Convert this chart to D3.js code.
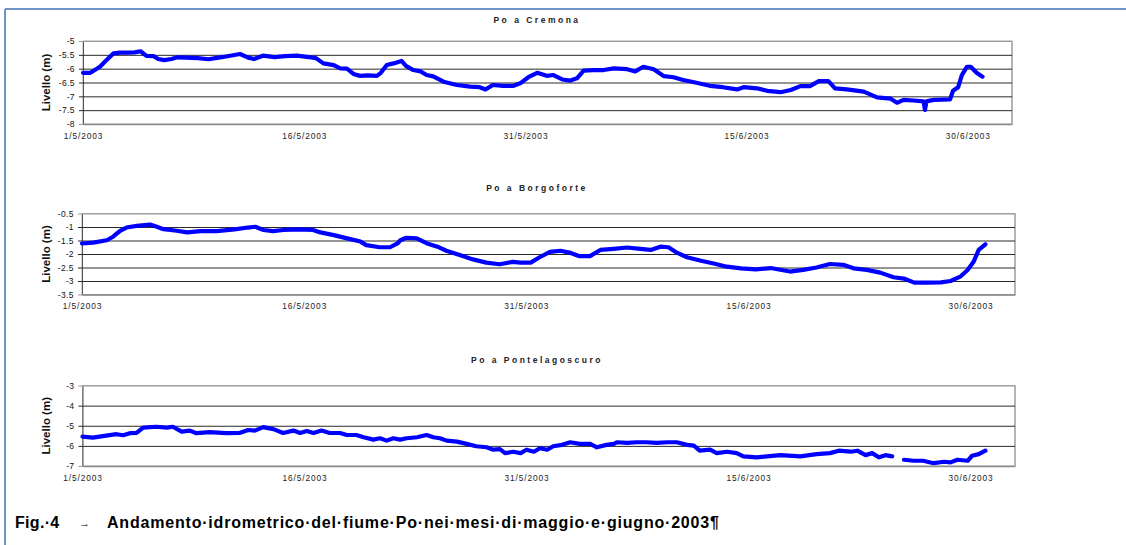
<!DOCTYPE html>
<html>
<head>
<meta charset="utf-8">
<script src="https://cdn.jsdelivr.net/npm/d3@7"></script>
<style>
  html, body { margin: 0; padding: 0; background: #fff; }
  svg { display: block; }
  text { font-family: "Liberation Sans", Arial, sans-serif; }
</style>
</head>
<body>
<svg id="chart" width="1126" height="545"></svg>
<script>
// Hydrometric levels of the Po river, May–June 2003.
// Days are counted from 1 May 2003 00:00; levels in metres.

const dateTickLabels = ["1/5/2003", "16/5/2003", "31/5/2003", "15/6/2003", "30/6/2003"];
const axisEndLabel = "3/7/2003";

const cremonaTicks = [-5, -5.5, -6, -6.5, -7, -7.5, -8];
const borgoforteTicks = [-0.5, -1, -1.5, -2, -2.5, -3, -3.5];
const pontelagoscuroTicks = [-3, -4, -5, -6, -7];

const cremonaDays = [0, 0.5, 1.15, 1.6, 2.06, 2.5, 3.0, 3.5, 3.9, 4.3, 4.8, 5.1, 5.5, 6.0, 6.4, 7.0, 7.8, 8.5, 9.2, 9.8,
  10.65, 11.2, 11.6, 12.2, 13.0, 13.7, 14.5, 15.3, 15.8, 16.3, 17.0, 17.44, 17.9, 18.34, 18.8, 19.3, 19.93, 20.2, 20.6,
  21.05, 21.6, 21.9, 22.4, 22.9, 23.3, 23.75, 24.45, 25.35, 26.25, 26.9, 27.3, 27.8, 28.5, 29.2, 29.65, 30.2, 30.8,
  31.45, 31.9, 32.5, 33.05, 33.5, 33.95, 34.6, 35.3, 36.0, 36.9, 37.45, 38.0, 38.7, 39.4, 40.05, 40.7, 41.6, 42.5,
  43.4, 44.35, 44.8, 45.7, 46.4, 47.3, 48.0, 48.65, 49.3, 49.9, 50.55, 51.0, 51.8, 52.95, 53.85, 54.75, 55.2, 55.65,
  56.3, 57.0, 57.1, 57.2, 57.7, 58.8, 59.0, 59.35, 59.6, 59.95, 60.2, 60.6, 61.0];
const cremonaLevels = [-6.15, -6.15, -5.93, -5.69, -5.45, -5.42, -5.42, -5.41, -5.37, -5.54, -5.55, -5.65, -5.69, -5.65,
  -5.59, -5.6, -5.62, -5.66, -5.6, -5.55, -5.47, -5.6, -5.65, -5.53, -5.58, -5.55, -5.53, -5.58, -5.62, -5.81, -5.87,
  -5.99, -6.0, -6.19, -6.26, -6.24, -6.26, -6.15, -5.87, -5.81, -5.72, -5.9, -6.05, -6.1, -6.23, -6.28, -6.47, -6.59,
  -6.65, -6.67, -6.75, -6.59, -6.62, -6.62, -6.53, -6.31, -6.15, -6.26, -6.23, -6.39, -6.43, -6.35, -6.07, -6.05,
  -6.05, -5.99, -6.02, -6.1, -5.93, -6.02, -6.27, -6.31, -6.41, -6.51, -6.62, -6.67, -6.75, -6.67, -6.71, -6.8, -6.85,
  -6.77, -6.63, -6.63, -6.45, -6.45, -6.71, -6.75, -6.83, -7.04, -7.08, -7.23, -7.13, -7.15, -7.18, -7.49, -7.18,
  -7.13, -7.11, -6.8, -6.67, -6.23, -5.93, -5.93, -6.15, -6.29];

const borgoforteDays = [0, 0.76, 1.67, 2.1, 2.57, 3.0, 3.7, 4.6, 5.05, 5.5, 6.4, 7.1, 8.0, 9.1, 10.3, 11.2, 11.7, 12.25,
  12.9, 13.6, 14.7, 15.6, 16.1, 17.0, 17.9, 18.8, 19.2, 20.1, 20.8, 21.3, 21.5, 21.9, 22.6, 23.3, 24.0, 24.6, 25.5,
  26.4, 27.3, 28.2, 29.1, 29.6, 30.3, 30.9, 31.6, 32.3, 33.0, 33.6, 34.3, 35.0, 35.9, 36.8, 37.7, 38.4, 39.05, 39.6,
  40.2, 40.85, 41.8, 42.65, 43.55, 44.5, 45.5, 46.5, 47.8, 48.7, 49.6, 50.5, 51.4, 52.1, 53.0, 53.9, 54.8, 55.5, 56.2,
  57.1, 58.0, 58.65, 59.3, 59.8, 60.2, 60.55, 61.0];
const borgoforteLevels = [-1.61, -1.58, -1.49, -1.36, -1.14, -1.02, -0.96, -0.91, -0.99, -1.08, -1.14, -1.2, -1.15,
  -1.15, -1.09, -1.02, -0.99, -1.11, -1.15, -1.11, -1.09, -1.11, -1.2, -1.3, -1.42, -1.54, -1.67, -1.75, -1.75, -1.61,
  -1.49, -1.4, -1.42, -1.61, -1.73, -1.88, -2.04, -2.2, -2.32, -2.38, -2.29, -2.32, -2.32, -2.12, -1.92, -1.88, -1.96,
  -2.08, -2.08, -1.85, -1.81, -1.76, -1.81, -1.85, -1.73, -1.75, -1.96, -2.12, -2.25, -2.35, -2.47, -2.53, -2.57,
  -2.52, -2.65, -2.59, -2.5, -2.37, -2.4, -2.53, -2.59, -2.69, -2.86, -2.91, -3.06, -3.06, -3.05, -3.0, -2.84, -2.59,
  -2.29, -1.85, -1.64];

// null marks the missing readings around 25 June
const pontelagoscuroDays = [0, 0.7, 1.6, 2.3, 2.75, 3.2, 3.65, 4.1, 5.0, 5.7, 6.1, 6.7, 7.25, 7.7, 8.6, 9.7, 10.6, 11.2,
  11.65, 12.2, 12.9, 13.55, 14.25, 14.7, 15.15, 15.6, 16.15, 16.7, 17.4, 17.85, 18.5, 19.0, 19.65, 20.1, 20.55, 21.0,
  21.45, 21.9, 22.6, 23.25, 23.7, 24.15, 24.6, 25.3, 25.95, 26.6, 27.3, 27.75, 28.2, 28.55, 29.1, 29.6, 30.0, 30.5,
  30.9, 31.4, 31.8, 32.4, 32.95, 33.6, 34.3, 34.75, 35.4, 35.9, 36.1, 36.8, 37.45, 38.1, 38.8, 39.5, 40.15, 40.85,
  41.3, 41.7, 42.4, 42.85, 43.55, 44.2, 44.65, 45.55, 46.25, 47.15, 48.5, 49.6, 50.5, 51.1, 51.9, 52.35, 52.9, 53.35,
  53.8, 54.25, 54.7, 55.1, 55.5, 56.15, 56.8, 57.5, 58.2, 58.65, 59.1, 59.8, 60.1, 60.55, 61.0];
const pontelagoscuroLevels = [-5.54, -5.59, -5.49, -5.42, -5.47, -5.37, -5.36, -5.09, -5.05, -5.09, -5.05, -5.29,
  -5.24, -5.37, -5.32, -5.37, -5.36, -5.21, -5.24, -5.07, -5.17, -5.36, -5.24, -5.36, -5.26, -5.36, -5.24, -5.36,
  -5.36, -5.46, -5.46, -5.57, -5.69, -5.62, -5.74, -5.62, -5.69, -5.62, -5.57, -5.46, -5.57, -5.62, -5.74, -5.79,
  -5.9, -6.02, -6.07, -6.19, -6.16, -6.36, -6.29, -6.36, -6.19, -6.29, -6.12, -6.19, -6.02, -5.95, -5.82, -5.9, -5.9,
  -6.07, -5.95, -5.9, -5.82, -5.85, -5.82, -5.82, -5.85, -5.82, -5.82, -5.95, -5.99, -6.24, -6.19, -6.36, -6.29,
  -6.36, -6.52, -6.57, -6.52, -6.46, -6.52, -6.41, -6.36, -6.24, -6.29, -6.24, -6.46, -6.36, -6.57, -6.46, -6.52,
  null, -6.69, -6.74, -6.74, -6.86, -6.79, -6.82, -6.69, -6.74, -6.49, -6.41, -6.24];

const stationTitles = ["Po a Cremona", "Po a Borgoforte", "Po a Pontelagoscuro"];
const yAxisTitle = "Livello (m)";
const captionLead = "Fig.·4";
const captionTab = "→";
const captionText = "Andamento·idrometrico·del·fiume·Po·nei·mesi·di·maggio·e·giugno·2003¶";

const parseDate = d3.timeParse("%d/%m/%Y");
const startDate = parseDate(dateTickLabels[0]);
const endDate = parseDate(axisEndLabel);
const DAY = 86400000;

const svg = d3.select("#chart");

// document frame
svg.append("line").attr("x1", 5).attr("x2", 1126).attr("y1", 9).attr("y2", 9)
  .attr("stroke", "#6f95c8").attr("stroke-width", 2);
svg.append("line").attr("x1", 5).attr("x2", 5).attr("y1", 9).attr("y2", 545)
  .attr("stroke", "#6f95c8").attr("stroke-width", 2);

const panels = [
  { title: stationTitles[0], days: cremonaDays, levels: cremonaLevels, ticks: cremonaTicks,
    left: 83, right: 1012, top: 41, bottom: 124, titleY: 23 },
  { title: stationTitles[1], days: borgoforteDays, levels: borgoforteLevels, ticks: borgoforteTicks,
    left: 82, right: 1015, top: 213.5, bottom: 294.5, titleY: 191 },
  { title: stationTitles[2], days: pontelagoscuroDays, levels: pontelagoscuroLevels, ticks: pontelagoscuroTicks,
    left: 82.5, right: 1015, top: 385.5, bottom: 466, titleY: 363 }
];

panels.forEach(p => {
  const g = svg.append("g");
  const x = d3.scaleTime().domain([startDate, endDate]).range([p.left, p.right]);
  const y = d3.scaleLinear().domain([d3.max(p.ticks), d3.min(p.ticks)]).range([p.top, p.bottom]);

  // plot area border
  g.append("rect")
    .attr("x", p.left).attr("y", p.top)
    .attr("width", p.right - p.left).attr("height", p.bottom - p.top)
    .attr("fill", "none").attr("stroke", "#a8a8a8").attr("stroke-width", 1);
  g.append("line")
    .attr("x1", p.right).attr("x2", p.right).attr("y1", p.top).attr("y2", p.bottom)
    .attr("stroke", "#b4b4b4").attr("stroke-width", 2);

  // horizontal gridlines + value axis
  const yAxis = d3.axisLeft(y)
    .tickValues(p.ticks)
    .tickSize(-(p.right - p.left))
    .tickSizeOuter(0)
    .tickPadding(8)
    .tickFormat(d => String(d));
  const ya = g.append("g").attr("transform", `translate(${p.left},0)`).call(yAxis);
  ya.select(".domain").attr("stroke", "#555").attr("stroke-width", 1);
  ya.selectAll(".tick line")
    .attr("x1", -4)
    .attr("stroke", (d, i) => (i === 0 || i === p.ticks.length - 1) ? "#9a9a9a" : "#2a2a2a")
    .attr("stroke-width", 1);
  ya.selectAll(".tick text")
    .attr("font-size", 8.5).attr("letter-spacing", 0.4).attr("fill", "#111")
    .attr("font-family", "'Liberation Sans', Arial, sans-serif");

  // date axis
  const xAxis = d3.axisBottom(x)
    .tickValues(dateTickLabels.map(parseDate))
    .tickSize(0)
    .tickPadding(9)
    .tickFormat(d3.timeFormat("%-d/%-m/%Y"));
  const xa = g.append("g").attr("transform", `translate(0,${p.bottom})`).call(xAxis);
  xa.select(".domain").attr("stroke", "#8c8c8c").attr("stroke-width", 1.5);
  xa.selectAll(".tick text")
    .attr("font-size", 8.3).attr("letter-spacing", 0.9).attr("fill", "#222")
    .attr("font-family", "'Liberation Sans', Arial, sans-serif");

  // series
  const pts = p.days.map((d, i) => ({ date: new Date(startDate.getTime() + d * DAY), v: p.levels[i] }));
  const line = d3.line()
    .defined(d => d.v !== null)
    .x(d => x(d.date))
    .y(d => y(d.v));
  g.append("path")
    .datum(pts)
    .attr("d", line)
    .attr("fill", "none")
    .attr("stroke", "#0000ff")
    .attr("stroke-width", 4.2)
    .attr("stroke-linejoin", "round")
    .attr("stroke-linecap", "round");

  // panel title
  g.append("text")
    .attr("x", 537).attr("y", p.titleY)
    .attr("text-anchor", "middle")
    .attr("font-size", 8.5).attr("font-weight", "bold").attr("letter-spacing", 2.5)
    .attr("fill", "#222")
    .text(p.title);

  // value axis title
  g.append("text")
    .attr("transform", `translate(50,${(p.top + p.bottom) / 2}) rotate(-90)`)
    .attr("text-anchor", "middle")
    .attr("font-size", 11.5).attr("font-weight", "bold")
    .attr("fill", "#111")
    .text(yAxisTitle);
});

// caption
const cap = svg.append("g").attr("font-weight", "bold").attr("font-size", 16).attr("fill", "#000");
cap.append("text").attr("x", 15).attr("y", 528).attr("letter-spacing", 0.3).text(captionLead);
cap.append("text").attr("x", 79).attr("y", 527).attr("font-size", 11).text(captionTab);
cap.append("text").attr("x", 107).attr("y", 528).attr("letter-spacing", 0.8).text(captionText);
</script>
</body>
</html>
